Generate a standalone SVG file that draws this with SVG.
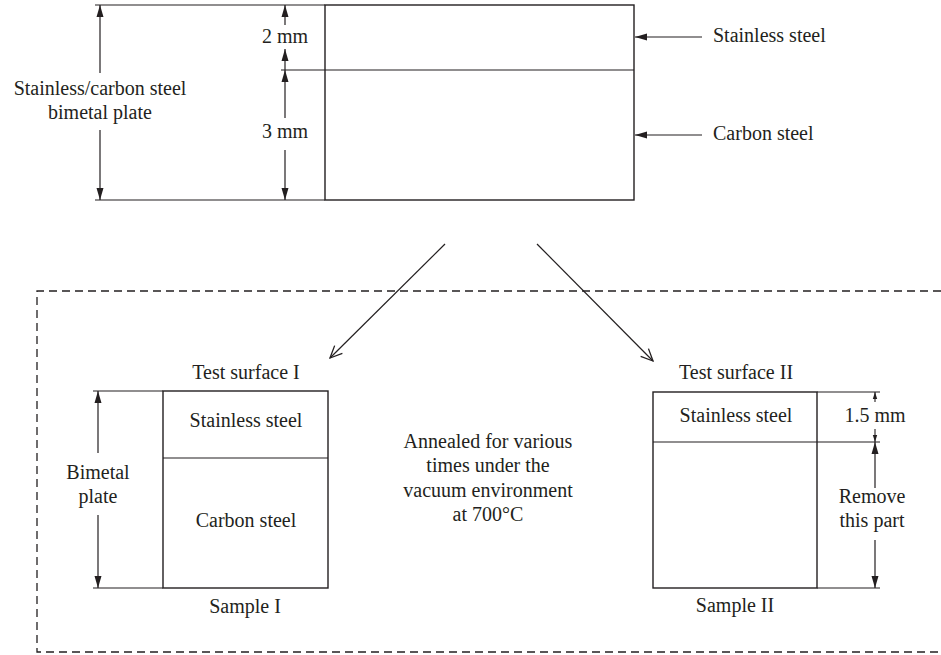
<svg xmlns="http://www.w3.org/2000/svg" width="941" height="655" viewBox="0 0 941 655">
<style>
  text { font-family: "Liberation Serif", "Times New Roman", serif; font-size: 20px; fill: #231f20; }
  .m { text-anchor: middle; }
  .ln { stroke: #231f20; stroke-width: 1.2; fill: none; }
  .box { stroke: #231f20; stroke-width: 1.4; fill: #fff; }
  .dash { stroke: #231f20; stroke-width: 1.3; fill: none; stroke-dasharray: 8 5; }
  .dim { stroke: #231f20; stroke-width: 1.2; fill: none; marker-end: url(#tri); }
  .dims { stroke: #231f20; stroke-width: 1.1; fill: none; marker-end: url(#tris); }
  .dia { stroke: #231f20; stroke-width: 1.2; fill: none; marker-end: url(#vee); }
</style>
<defs>
  <marker id="tri" markerUnits="userSpaceOnUse" markerWidth="13" markerHeight="8" refX="12" refY="4" orient="auto">
    <path d="M0,0.5 L12,4 L0,7.5 z" fill="#231f20"/>
  </marker>
  <marker id="tris" markerUnits="userSpaceOnUse" markerWidth="8" markerHeight="6" refX="7" refY="3" orient="auto">
    <path d="M0,0.8 L7,3 L0,5.2 z" fill="#231f20"/>
  </marker>
  <marker id="vee" markerUnits="userSpaceOnUse" markerWidth="14" markerHeight="14" refX="13" refY="7" orient="auto">
    <path d="M1,1.5 L13,7 L1,12.5" fill="none" stroke="#231f20" stroke-width="1.3"/>
  </marker>
</defs>

<path class="dash" d="M941,291 H37 V652 H941"/>

<g id="bimetal-plate">
  <rect class="box" x="325" y="5" width="309" height="195"/>
  <line class="ln" x1="325" y1="70" x2="634" y2="70"/>
</g>

<g id="plate-dimensions">
  <line class="ln" x1="95" y1="5" x2="325" y2="5"/>
  <line class="ln" x1="95" y1="200" x2="325" y2="200"/>
  <line class="ln" x1="281" y1="70" x2="325" y2="70"/>
  <text class="m" x="100" y="95">Stainless/carbon steel</text>
  <text class="m" x="100" y="119">bimetal plate</text>
  <text class="m" x="285" y="43">2 mm</text>
  <text class="m" x="285" y="138">3 mm</text>
</g>

<g id="label-stainless">
  <text x="713" y="42">Stainless steel</text>
</g>
<g id="label-carbon">
  <text x="713" y="140">Carbon steel</text>
</g>

<g id="sample-1">
  <rect class="box" x="163" y="391" width="165" height="197"/>
  <line class="ln" x1="163" y1="458" x2="328" y2="458"/>
  <text class="m" x="246" y="379">Test surface I</text>
  <text class="m" x="246" y="427">Stainless steel</text>
  <text class="m" x="246" y="527">Carbon steel</text>
  <text class="m" x="245" y="613">Sample I</text>
  <line class="ln" x1="93" y1="391" x2="163" y2="391"/>
  <line class="ln" x1="93" y1="588" x2="163" y2="588"/>
  <text class="m" x="98" y="479">Bimetal</text>
  <text class="m" x="98" y="503">plate</text>
</g>

<g id="anneal-note">
  <text class="m" x="488" y="448">Annealed for various</text>
  <text class="m" x="488" y="472">times under the</text>
  <text class="m" x="488" y="497">vacuum environment</text>
  <text class="m" x="488" y="521">at 700°C</text>
</g>

<g id="sample-2">
  <rect class="box" x="653" y="392" width="164" height="196"/>
  <line class="ln" x1="653" y1="442" x2="817" y2="442"/>
  <text class="m" x="736" y="379">Test surface II</text>
  <text class="m" x="736" y="422">Stainless steel</text>
  <text class="m" x="735" y="612">Sample II</text>
  <line class="ln" x1="817" y1="392" x2="880" y2="392"/>
  <line class="ln" x1="817" y1="442" x2="880" y2="442"/>
  <line class="ln" x1="817" y1="588" x2="880" y2="588"/>
  <text class="m" x="875" y="422">1.5 mm</text>
  <text class="m" x="872" y="503">Remove</text>
  <text class="m" x="872" y="527">this part</text>
</g>

<g id="connectors">
  <line class="dim" x1="100" y1="73" x2="100" y2="5"/>
  <line class="dim" x1="100" y1="130" x2="100" y2="200"/>
  <line class="dim" x1="285" y1="25" x2="285" y2="5"/>
  <line class="dim" x1="285" y1="70" x2="285" y2="49"/>
  <line class="dim" x1="285" y1="118" x2="285" y2="70"/>
  <line class="dim" x1="285" y1="150" x2="285" y2="200"/>
  <line class="dim" x1="702" y1="37" x2="635" y2="37"/>
  <line class="dim" x1="702" y1="135" x2="635" y2="135"/>
  <line class="dia" x1="445" y1="244" x2="330" y2="358"/>
  <line class="dia" x1="537" y1="244" x2="653" y2="361"/>
  <line class="dim" x1="98" y1="453" x2="98" y2="391"/>
  <line class="dim" x1="98" y1="515" x2="98" y2="588"/>
  <line class="dims" x1="875" y1="402" x2="875" y2="392"/>
  <line class="dims" x1="875" y1="429" x2="875" y2="442"/>
  <line class="dim" x1="875" y1="488" x2="875" y2="442"/>
  <line class="dim" x1="875" y1="540" x2="875" y2="588"/>
</g>
</svg>
